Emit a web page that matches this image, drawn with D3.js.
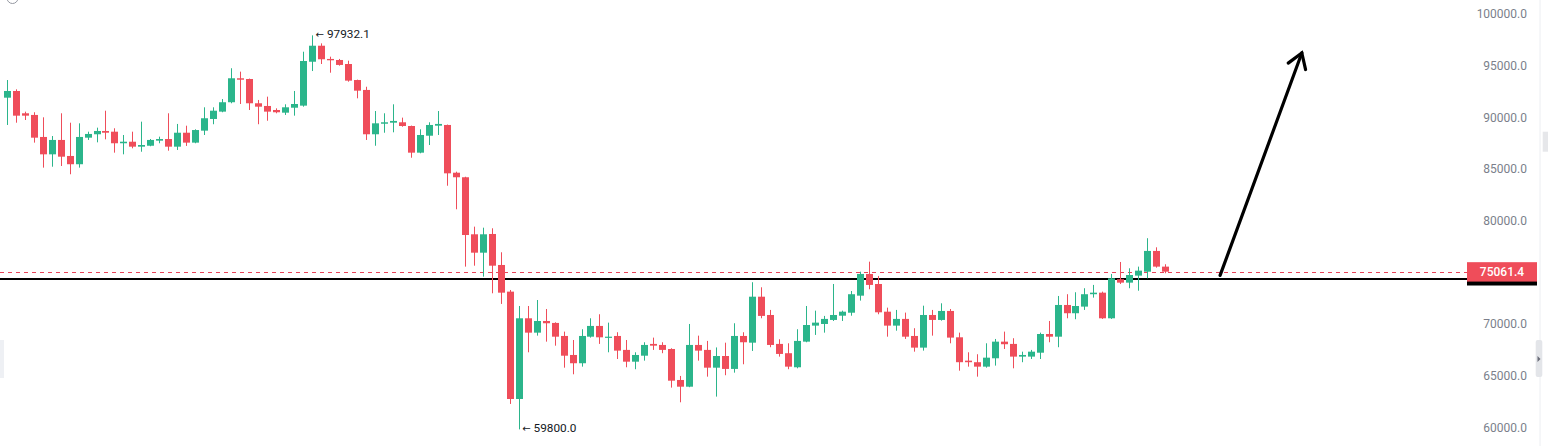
<!DOCTYPE html>
<html>
<head>
<meta charset="utf-8">
<script src="https://cdnjs.cloudflare.com/ajax/libs/d3/7.8.5/d3.min.js"></script>
<style>
    body { margin: 0; background: #fff; overflow: hidden; }
    text { font-family: Roboto, "Liberation Sans", sans-serif; }
</style>
</head>
<body>
<div id="chart"></div>
<script>
"use strict";

// daily candles, oldest first
const opens = [91900, 92550, 90390, 90230, 88100, 86420, 87810, 86260, 85460, 88030,
    88360, 88680, 88610, 87490, 87640, 87160, 87250, 87740, 87900, 87160,
    88510, 87550, 88710, 89840, 90550, 91460, 93780, 93710, 91360, 91100,
    90710, 90450, 90930, 91130, 95380, 96930, 95650, 95550, 95160, 93610,
    92650, 88360, 89380, 89480, 89520, 89160, 86580, 88220, 89190, 89260,
    84640, 84200, 78680, 76900, 78710, 75710, 73130, 62740, 70550, 69160,
    70290, 70100, 68840, 67000, 66200, 68770, 69810, 68680, 68840, 67490,
    66350, 66930, 68070, 67970, 67580, 64580, 63930, 67970, 67490, 65770,
    66900, 65650, 68840, 68190, 72640, 70870, 68070, 67170, 65810, 68290,
    69840, 70000, 70390, 70800, 71090, 72740, 74840, 73870, 71190, 69840,
    70490, 68840, 67710, 70870, 70390, 71260, 68710, 66450, 66300, 65870,
    66680, 68290, 68070, 66840, 66840, 67220, 69030, 68770, 71840, 71040,
    71680, 72880, 73030, 70550, 74330, 74000, 74680, 75060, 77070, 75550];

const highs = [93610, 92710, 90550, 90490, 90000, 88190, 90390, 89480, 89420, 88610,
    89000, 90640, 88940, 88290, 88610, 89580, 87900, 88130, 90390, 89360,
    89190, 88840, 90970, 90970, 91770, 94750, 94420, 93750, 91680, 92000,
    90870, 91260, 92550, 96350, 97932.1, 97160, 95870, 95650, 95480, 93650,
    92960, 90610, 90390, 91260, 89970, 89200, 88840, 89520, 90610, 89300,
    84740, 84250, 79420, 79320, 79260, 76940, 73290, 71740, 71740, 72320,
    71450, 70160, 69260, 68450, 69490, 70550, 70940, 70130, 69200, 68450,
    67260, 68230, 68680, 68230, 67650, 64970, 70000, 68870, 68360, 67730,
    68190, 70070, 69200, 74040, 73550, 71360, 68520, 68130, 69490, 71740,
    71290, 70780, 73870, 71290, 73190, 75060, 76030, 74650, 71580, 71360,
    71100, 69590, 71770, 71360, 72000, 71450, 69160, 67260, 67070, 68130,
    68550, 69260, 68620, 67320, 67490, 69160, 70290, 72710, 72880, 73070,
    73460, 73780, 73130, 74840, 76000, 75390, 75550, 78300, 77420, 75780];

const lows = [89260, 89480, 89740, 87550, 85130, 85220, 85290, 84490, 85130, 87810,
    87580, 87870, 86580, 86420, 87000, 86670, 87200, 87490, 86770, 86840,
    87230, 87490, 88290, 89330, 90490, 91360, 91290, 90710, 89330, 89670,
    90390, 90230, 90160, 91030, 94480, 95160, 94320, 95000, 93450, 91840,
    87810, 87250, 88510, 88550, 89090, 86090, 86520, 87320, 88290, 83380,
    81100, 75550, 75640, 74580, 72970, 71940, 62260, 59800, 67260, 68870,
    68290, 67900, 65770, 65130, 65870, 68680, 68070, 67260, 66610, 65810,
    65620, 66450, 67490, 67170, 63840, 62420, 63880, 66450, 64900, 62970,
    65040, 65290, 66100, 67390, 70550, 67750, 66840, 65620, 65710, 68230,
    68940, 69160, 70290, 70290, 70800, 72260, 73360, 70940, 68770, 69350,
    68550, 67320, 67420, 68870, 70320, 68130, 65480, 65870, 64900, 65770,
    65970, 67580, 65710, 66300, 66610, 66610, 68230, 67750, 70550, 70460,
    71360, 72550, 70490, 70490, 73870, 73460, 73220, 74420, 75450, 74910];

const closes = [92550, 90160, 90160, 88030, 86420, 87810, 86190, 85460, 88100, 88390,
    88680, 88510, 87490, 87640, 87160, 87320, 87810, 87900, 87160, 88510,
    87550, 88770, 89910, 90640, 91460, 93780, 93640, 91360, 91030, 90550,
    90490, 90970, 91290, 95450, 96930, 95620, 95520, 95070, 93550, 92580,
    88360, 89420, 89520, 89650, 89160, 86580, 88290, 89260, 89360, 84580,
    84200, 78610, 76900, 78680, 75640, 73030, 62740, 70550, 69160, 70290,
    70070, 68770, 66930, 66200, 68840, 69810, 68710, 68770, 67420, 66350,
    67000, 67970, 67900, 67490, 64510, 63930, 67970, 67420, 65770, 66900,
    65650, 68840, 68230, 72640, 70780, 67970, 67100, 65870, 68360, 69900,
    70130, 70490, 70870, 71190, 72880, 74840, 73780, 71130, 69840, 70490,
    68770, 67710, 70870, 70390, 71260, 68680, 66300, 66300, 65870, 66740,
    68290, 68040, 66840, 67000, 67320, 69030, 68770, 71840, 71040, 71740,
    72880, 73030, 70550, 74420, 74000, 74740, 75160, 77070, 75550, 75061.4];

// price axis ticks
const yTicks = [60000, 65000, 70000, 75000, 80000, 85000, 90000, 95000, 100000];

// drawn annotations
const lastPrice = 75061.4;
const supportLevel = 74400;
const maxMark = { index: 34, price: 97932.1 };
const minMark = { index: 57, price: 59800.0 };
const arrowFrom = { index: 135.1, price: 74700 };
const arrowTo = { index: 144.2, price: 96230 };

const msm = {
    width: 1548,
    height: 446,
    plotRight: 1467,
    labelX: 1527
}
const colors = {
    up: "#2bb58b",
    down: "#ef4d5a",
    axisText: "#7b7f8b",
    text: "#131722"
}

let svgContainer = "";

window.onload = function () {
    svgContainer = d3.select("#chart")
        .append("svg")
        .attr("width", msm.width)
        .attr("height", msm.height)
        .style("display", "block");

    let candles = opens.map((o, i) => ({
        i: i, open: o, high: highs[i], low: lows[i], close: closes[i]
    }));

    // scales: candle index -> x, price -> y
    let x = d3.scaleLinear()
        .domain([0, candles.length - 1])
        .range([6.7, 1165.3]);
    let y = d3.scaleLinear()
        .domain([60000, 100000])
        .range([427.3, 14]);

    drawChrome();
    drawLevels(x, y);
    drawCandles(candles, x, y);
    drawMarks(x, y);
    drawAxis(y);
}

// small grey ui pieces around the edges
function drawChrome() {
    svgContainer.append("circle")
        .attr("cx", 12.5).attr("cy", -2).attr("r", 5.5)
        .attr("fill", "none").attr("stroke", "#9598a1").attr("stroke-width", 1);

    svgContainer.append("rect")
        .attr("x", 0).attr("y", 340).attr("width", 4).attr("height", 38)
        .attr("fill", "#eef0f4");

    svgContainer.append("line")
        .attr("x1", 1540).attr("x2", 1540).attr("y1", 0).attr("y2", msm.height)
        .attr("stroke", "#eceef2");
    svgContainer.append("rect")
        .attr("x", 1542.7).attr("y", 131.7).attr("width", 6).attr("height", 20)
        .attr("fill", "#e6e7ea");
    svgContainer.append("rect")
        .attr("x", 1535.7).attr("y", 340).attr("width", 6.6).attr("height", 37)
        .attr("rx", 2)
        .attr("fill", "#e3e5e9");
    svgContainer.append("path")
        .attr("d", "M1537.5,356 L1540.5,359 L1537.5,362 Z")
        .attr("fill", "#6a6d78");
}

// last price dashed line and hand drawn support line
function drawLevels(x, y) {
    let yp = Math.round(y(lastPrice)) + 0.5;
    svgContainer.append("line")
        .attr("x1", 0).attr("x2", msm.plotRight)
        .attr("y1", yp).attr("y2", yp)
        .attr("stroke", "#e8455a")
        .attr("stroke-width", 1)
        .attr("stroke-dasharray", "4,4");

    let ys = Math.round(y(supportLevel));
    svgContainer.append("line")
        .attr("x1", 0).attr("x2", msm.plotRight)
        .attr("y1", ys).attr("y2", ys)
        .attr("stroke", "#000")
        .attr("stroke-width", 2);
}

function drawCandles(candles, x, y) {
    let bodyW = 7;
    let g = svgContainer.append("g").attr("class", "candles");
    let c = (d) => d.close >= d.open ? colors.up : colors.down;

    // wicks
    g.selectAll(".wick")
        .data(candles)
        .enter()
        .append("line")
        .attr("class", "wick")
        .attr("x1", (d) => Math.round(x(d.i)) + 0.5)
        .attr("x2", (d) => Math.round(x(d.i)) + 0.5)
        .attr("y1", (d) => y(d.high))
        .attr("y2", (d) => y(d.low))
        .attr("stroke", c)
        .attr("stroke-width", 1);

    // bodies
    g.selectAll(".body")
        .data(candles)
        .enter()
        .append("rect")
        .attr("class", "body")
        .attr("x", (d) => Math.round(x(d.i)) + 0.5 - bodyW / 2)
        .attr("width", bodyW)
        .attr("y", (d) => y(Math.max(d.open, d.close)))
        .attr("height", (d) => Math.max(1.2, Math.abs(y(d.open) - y(d.close))))
        .attr("fill", c);
}

// a "← value" label next to a high or low
function markLabel(x, y, mark) {
    let t = svgContainer.append("text")
        .attr("x", x(mark.index) + 3.5)
        .attr("y", y(mark.price) - 1.5)
        .attr("dy", "0.35em")
        .style("font-size", "11.8px")
        .attr("fill", colors.text);
    t.append("tspan")
        .style("font-family", "'DejaVu Sans'")
        .style("font-size", "10px")
        .text("\u2190");
    t.append("tspan")
        .attr("dx", 3)
        .text(d3.format(".1f")(mark.price));
}

// high/low labels and the big up arrow
function drawMarks(x, y) {
    markLabel(x, y, maxMark);
    markLabel(x, y, minMark);

    let x1 = x(arrowFrom.index), y1 = y(arrowFrom.price);
    let x2 = x(arrowTo.index), y2 = y(arrowTo.price);
    svgContainer.append("line")
        .attr("x1", x1).attr("y1", y1)
        .attr("x2", x2).attr("y2", y2)
        .attr("stroke", "#000")
        .attr("stroke-width", 3.2)
        .attr("stroke-linecap", "round");

    // arrow head: two short strokes back from the tip
    let len = Math.hypot(x1 - x2, y1 - y2);
    let ux = (x1 - x2) / len, uy = (y1 - y2) / len;
    let a = 33 * Math.PI / 180, hl = 17;
    let w1 = [x2 + hl * (ux * Math.cos(a) - uy * Math.sin(a)), y2 + hl * (ux * Math.sin(a) + uy * Math.cos(a))];
    let w2 = [x2 + hl * (ux * Math.cos(-a) - uy * Math.sin(-a)), y2 + hl * (ux * Math.sin(-a) + uy * Math.cos(-a))];
    svgContainer.append("path")
        .attr("d", d3.line()([w1, [x2, y2], w2]))
        .attr("fill", "none")
        .attr("stroke", "#000")
        .attr("stroke-width", 3.2)
        .attr("stroke-linecap", "round")
        .attr("stroke-linejoin", "miter");
}

// price scale on the right with the price tags
function drawAxis(y) {
    let axis = d3.axisLeft(y)
        .tickValues(yTicks)
        .tickFormat(d3.format(".1f"))
        .tickSize(0)
        .tickPadding(0);

    let g = svgContainer.append("g")
        .attr("transform", "translate(" + msm.labelX + ",0)")
        .call(axis);
    g.select(".domain").remove();
    g.selectAll("text")
        .style("font-family", "Roboto, sans-serif")
        .style("font-size", "12px")
        .attr("fill", colors.axisText);
    // the tag sits over the 75000 label
    g.selectAll(".tick").filter((d) => d == 75000).remove();

    // black tag of the support line, mostly hidden
    svgContainer.append("rect")
        .attr("x", 1467).attr("width", 70)
        .attr("y", y(supportLevel) - 7).attr("height", 14)
        .attr("fill", "#000");

    svgContainer.append("rect")
        .attr("x", 1467).attr("width", 70)
        .attr("y", y(lastPrice) - 9.5).attr("height", 19.4)
        .attr("fill", colors.down);
    svgContainer.append("text")
        .attr("x", 1502).attr("y", y(lastPrice) + 0.3)
        .attr("dy", "0.35em")
        .attr("text-anchor", "middle")
        .style("font-size", "12px")
        .style("font-weight", "500")
        .attr("fill", "#fff")
        .text(d3.format(".1f")(lastPrice));
}
</script>
</body>
</html>
